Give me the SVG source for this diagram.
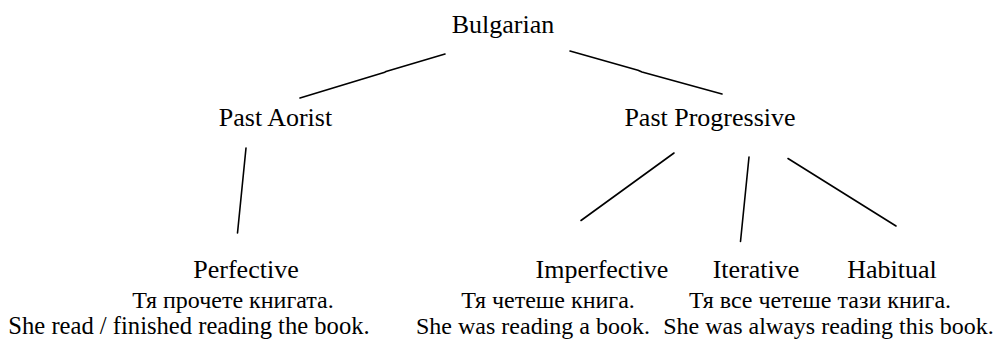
<svg xmlns="http://www.w3.org/2000/svg" width="1001" height="339" viewBox="0 0 1001 339" font-family="'Liberation Serif', 'Times New Roman', 'DejaVu Serif', serif">
<style>
text{font-family:"Liberation Serif","Times New Roman","DejaVu Serif",serif;fill:#000;text-anchor:middle}
.lab{font-size:26px}
.ex{font-size:24px}
.c{fill:none;stroke:#000;stroke-width:1.6;stroke-linecap:round;stroke-linejoin:round}
</style>
<rect width="1001" height="339" fill="#fff"/>
<g id="connectors">
<polyline class="c" points="445,54 386,71.5 384,72.6 300,98"/>
<polyline class="c" points="570,51 638,70.2 642,71.9 722,94"/>
<line class="c" x1="246" y1="148" x2="237.5" y2="233"/>
<line class="c" x1="674" y1="153" x2="581" y2="220.5"/>
<line class="c" x1="749" y1="157" x2="740.5" y2="241.5"/>
<line class="c" x1="788" y1="158.5" x2="896" y2="226"/>
</g>
<g id="bulgarian"><text class="lab" x="503" y="33">Bulgarian</text></g>
<g id="past-aorist"><text class="lab" x="275.5" y="126">Past Aorist</text></g>
<g id="past-progressive"><text class="lab" x="710" y="126">Past Progressive</text></g>
<g id="perfective">
<text class="lab" x="246" y="278">Perfective</text>
<text class="ex" x="233" y="308">Тя прочете книгата.</text>
<text class="ex" x="189" y="334" style="font-size:24.6px">She read / finished reading the book.</text>
</g>
<g id="imperfective">
<text class="lab" x="602" y="278">Imperfective</text>
<text class="ex" x="548" y="308">Тя четеше книга.</text>
<text class="ex" x="533" y="334">She was reading a book.</text>
</g>
<g id="iterative"><text class="lab" x="756" y="278">Iterative</text></g>
<g id="habitual"><text class="lab" x="892" y="278">Habitual</text></g>
<g id="iterative-habitual-example">
<text class="ex" x="820" y="308">Тя все четеше тази книга.</text>
<text class="ex" x="828.5" y="334">She was always reading this book.</text>
</g>
</svg>
